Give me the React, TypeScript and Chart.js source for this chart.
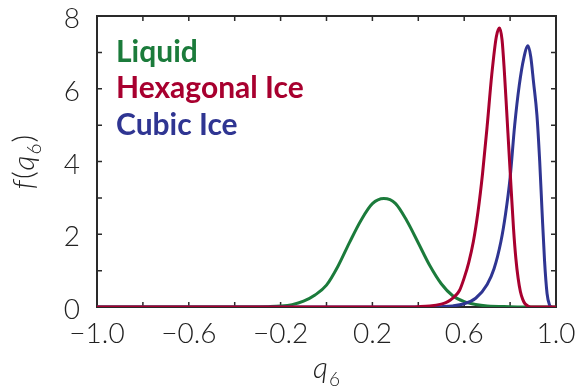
import { useEffect, useRef } from "react";
import { Chart, registerables } from "chart.js";

Chart.register(...registerables);

// Tick labels
const xTickLabels = [-1.0, -0.6, -0.2, 0.2, 0.6, 1.0];
const yTickLabels = [0, 2, 4, 6, 8];

// Liquid
const liquidQ = [-1.0, -0.35, -0.25, -0.2, -0.15, -0.1, -0.05, 0.0, 0.05, 0.1, 0.15, 0.2, 0.25, 0.3, 0.35, 0.4, 0.45, 0.5, 0.55, 0.6, 0.65, 0.7, 0.8, 0.9, 1.0];
const liquidF = [0, 0.002, 0.01, 0.025, 0.065, 0.16, 0.33, 0.6, 1.12, 1.77, 2.38, 2.84, 2.98, 2.85, 2.37, 1.76, 1.14, 0.64, 0.31, 0.15, 0.07, 0.03, 0.01, 0.0, 0.0];

// Hexagonal ice
const hexQ = [-1.0, 0.35, 0.4, 0.45, 0.5, 0.52, 0.54, 0.56, 0.58, 0.6, 0.62, 0.64, 0.66, 0.68, 0.7, 0.72, 0.74, 0.754, 0.765, 0.775, 0.785, 0.795, 0.805, 0.815, 0.825, 0.835, 0.845, 0.855, 0.865, 0.88, 0.9, 1.0];
const hexF = [0, 0, 0.01, 0.03, 0.08, 0.12, 0.19, 0.3, 0.46, 0.8, 1.23, 1.8, 2.61, 3.67, 4.97, 6.38, 7.43, 7.67, 7.34, 6.47, 5.4, 4.29, 3.2, 2.15, 1.34, 0.79, 0.42, 0.21, 0.09, 0.02, 0.0, 0.0];

// Cubic ice
const cubicQ = [-1.0, 0.4, 0.5, 0.55, 0.6, 0.65, 0.7, 0.73, 0.76, 0.78, 0.8, 0.82, 0.84, 0.86, 0.878, 0.89, 0.902, 0.917, 0.929, 0.939, 0.95, 0.961, 0.972, 0.98];
const cubicF = [0, 0, 0.01, 0.03, 0.09, 0.24, 0.62, 1.05, 1.8, 2.55, 3.55, 5.0, 6.1, 6.85, 7.18, 6.88, 6.19, 5.27, 4.0, 2.66, 1.28, 0.37, 0.05, 0.0];

const seriesLabels = ["Liquid", "Hexagonal Ice", "Cubic Ice"];
const GREEN = "#1b7b3b";
const RED = "#a8002f";
const BLUE = "#2f3592";
const AXIS = "#2a2a2a";

const near = (v: number, arr: number[]) => arr.some((a) => Math.abs(a - v) < 1e-6);
const fmt = (v: number) => (v < -1e-9 ? "\u2212" + Math.abs(v).toFixed(1) : Math.abs(v).toFixed(1));

const framePlugin = {
  id: "frameTicks",
  beforeDatasetsDraw(chart: any) {
    const { ctx, chartArea } = chart;
    const { left, right, top, bottom } = chartArea;
    ctx.save();
    ctx.strokeStyle = AXIS;
    ctx.lineWidth = 2;
    ctx.strokeRect(left, top, right - left, bottom - top);
    ctx.lineWidth = 1.5;
    const tl = 5;
    const xs = chart.scales.x;
    xs.ticks.forEach((t: any) => {
      const px = xs.getPixelForValue(t.value);
      ctx.beginPath();
      ctx.moveTo(px, bottom);
      ctx.lineTo(px, bottom - tl);
      ctx.moveTo(px, top);
      ctx.lineTo(px, top + tl);
      ctx.stroke();
    });
    const ys = chart.scales.y;
    ys.ticks.forEach((t: any) => {
      const py = ys.getPixelForValue(t.value);
      ctx.beginPath();
      ctx.moveTo(left, py);
      ctx.lineTo(left + tl, py);
      ctx.moveTo(right, py);
      ctx.lineTo(right - tl, py);
      ctx.stroke();
    });
    ctx.restore();
  },
  afterDraw(chart: any) {
    const { ctx, chartArea } = chart;
    ctx.save();
    // Legend (text only)
    ctx.font = "bold 30px Lato";
    ctx.textAlign = "left";
    ctx.textBaseline = "alphabetic";
    const colors = [GREEN, RED, BLUE];
    seriesLabels.forEach((lab, i) => {
      ctx.fillStyle = colors[i];
      ctx.fillText(lab, chartArea.left + 19, chartArea.top + 46 + i * 36.3);
    });

    // X title q_6
    ctx.fillStyle = "#222";
    const mainFont = "italic 300 30px Lato";
    const subFont = "300 19px Lato";
    ctx.font = mainFont;
    const wq = ctx.measureText("q").width;
    ctx.font = subFont;
    const w6 = ctx.measureText("6").width;
    const cx = (chartArea.left + chartArea.right) / 2;
    const x0 = cx - (wq + w6 + 1) / 2;
    ctx.font = mainFont;
    ctx.fillText("q", x0, 378);
    ctx.font = subFont;
    ctx.fillText("6", x0 + wq + 1, 386);

    // Y title f(q_6)
    const cy = (chartArea.top + chartArea.bottom) / 2;
    ctx.translate(34, cy);
    ctx.rotate(-Math.PI / 2);
    const parts: [string, string, number][] = [
      ["f", "italic 300 30px Lato", 0],
      ["(", "300 30px Lato", 0],
      ["q", "italic 300 30px Lato", 0],
      ["6", "300 19px Lato", 7],
      [")", "300 30px Lato", 0],
    ];
    let total = 0;
    const widths = parts.map(([s, f]) => {
      ctx.font = f;
      const w = ctx.measureText(s).width + 1;
      total += w;
      return w;
    });
    let px = -total / 2;
    parts.forEach(([s, f, dy], i) => {
      ctx.font = f;
      ctx.fillText(s, px, dy);
      px += widths[i];
    });
    ctx.restore();
  },
};

export default function App() {
  const ref = useRef<HTMLCanvasElement | null>(null);
  useEffect(() => {
    if (!ref.current) return;
    const mk = (q: number[], f: number[]) => q.map((x, i) => ({ x, y: f[i] }));
    const chart = new Chart(ref.current, {
      type: "line",
      data: {
        datasets: [
          { label: seriesLabels[0], data: mk(liquidQ, liquidF), borderColor: GREEN, order: 3 },
          { label: seriesLabels[1], data: mk(hexQ, hexF), borderColor: RED, order: 1 },
          { label: seriesLabels[2], data: mk(cubicQ, cubicF), borderColor: BLUE, order: 2 },
        ].map((d) => ({
          ...d,
          borderWidth: 3,
          pointRadius: 0,
          fill: false,
          cubicInterpolationMode: "monotone" as const,
        })),
      },
      plugins: [framePlugin],
      options: {
        animation: false,
        responsive: false,
        events: [],
        layout: { padding: { top: 16, right: 23, left: 0, bottom: 0 } },
        plugins: { legend: { display: false }, tooltip: { enabled: false } },
        scales: {
          x: {
            type: "linear",
            min: -1,
            max: 1,
            grid: { display: false, drawTicks: false },
            border: { display: false },
            afterFit: (s: any) => {
              s.height = 81;
              s.paddingLeft = 0;
              s.paddingRight = 0;
            },
            ticks: {
              stepSize: 0.2,
              padding: 10,
              autoSkip: false,
              maxRotation: 0,
              color: "#222",
              font: { family: "Lato", size: 28, weight: "300" },
              callback: (v: any) => (near(Number(v), xTickLabels) ? fmt(Number(v)) : ""),
            },
          },
          y: {
            type: "linear",
            min: 0,
            max: 8,
            grid: { display: false, drawTicks: false },
            border: { display: false },
            afterFit: (s: any) => {
              s.width = 97;
              s.paddingTop = 0;
              s.paddingBottom = 0;
            },
            ticks: {
              stepSize: 1,
              padding: 17,
              labelOffset: 3,
              autoSkip: false,
              color: "#222",
              font: { family: "Lato", size: 28, weight: "300" },
              callback: (v: any) => (near(Number(v), yTickLabels) ? String(Number(v)) : ""),
            },
          },
        },
      },
    });
    return () => chart.destroy();
  }, []);
  return (
    <div style={{ position: "absolute", left: 0, top: 0, width: 579, height: 388, background: "#fff" }}>
      <canvas ref={ref} width={579} height={388} style={{ width: 579, height: 388 }} />
    </div>
  );
}
